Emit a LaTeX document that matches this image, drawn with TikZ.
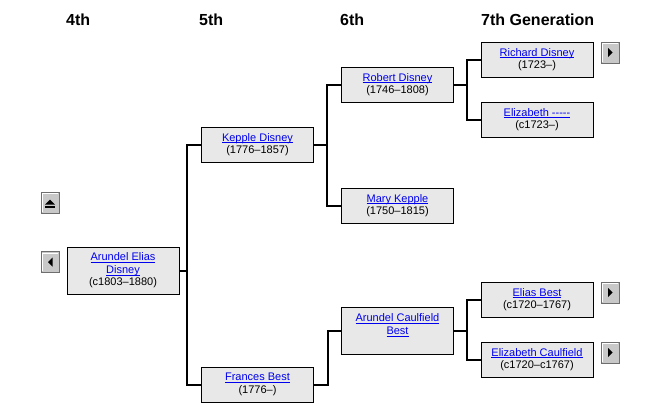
\documentclass[tikz,border=0pt]{standalone}
\usepackage{fontspec}
\setmainfont{Liberation Sans}
\definecolor{lnk}{RGB}{0,0,238}
\definecolor{boxgray}{RGB}{232,232,232}
\definecolor{btngray}{RGB}{200,200,200}
\definecolor{btndark}{RGB}{110,110,110}
\newcommand{\pname}[1]{\textcolor{lnk}{\setbox0\hbox{#1}\rlap{\rule[-2pt]{\wd0}{0.8pt}}\box0}}
\tikzset{pb/.append style={draw=black, fill=boxgray, line width=1pt, minimum width=112pt, minimum height=35pt, inner sep=0pt, align=center, font=\fontsize{11}{12.5}\selectfont}}
\tikzset{hd/.append style={anchor=base west, inner sep=0pt, font=\bfseries\fontsize{16}{19}\selectfont}}
\tikzset{cn/.append style={line width=2pt}}
\tikzset{bt/.append style={draw=btndark, fill=btngray, line width=1pt, minimum width=18pt, minimum height=21pt, inner sep=0pt,
  path picture={\draw[white] (path picture bounding box.south west) ++(1.5,-1.5) |- ([shift={(-1.5,1.5)}]path picture bounding box.north east);}}}

\begin{document}
\begin{tikzpicture}[x=1pt,y=-1pt]
                \useasboundingbox (0,0) rectangle (652,418);
                % headings
                \node[hd] (h4) at (66,25) {4th};
                \node[hd] (h5) at (199,25) {5th};
                \node[hd] (h6) at (340,25) {6th};
                \node[hd] (h7) at (481,25) {7th Generation};
                % people
                \node[pb,minimum height=47pt] (aed) at (123,270.5) {\pname{Arundel Elias}\\\pname{Disney}\\(c1803--1880)};
                \node[pb] (kd) at (257.5,144.5) {\pname{Kepple Disney}\\(1776--1857)};
                \node[pb] (fb) at (257.5,384.5) {\pname{Frances Best}\\(1776--)};
                \node[pb] (rd) at (397.5,84.5) {\pname{Robert Disney}\\(1746--1808)};
                \node[pb] (mk) at (397.5,205.5) {\pname{Mary Kepple}\\(1750--1815)};
                \node[pb,minimum height=47pt] (acb) at (397.5,330.5) {\pname{Arundel Caulfield}\\\pname{Best}\\\mbox{}};
                \node[pb] (rid) at (537,59.5) {\pname{Richard Disney}\\(1723--)};
                \node[pb] (el) at (537,119.5) {\pname{Elizabeth -{}-{}-{}-{}-}\\(c1723--)};
                \node[pb] (eb) at (537,299.5) {\pname{Elias Best}\\(c1720--1767)};
                \node[pb] (ec) at (537,359.5) {\pname{Elizabeth Caulfield}\\(c1720--c1767)};
                % buttons
                \node[bt] (up1) at (50,202.5) {};
                \node[bt] (l1) at (50,262) {};
                \node[bt] (r1) at (610,52.5) {};
                \node[bt] (r2) at (610,292.5) {};
                \node[bt] (r3) at (610,352.5) {};
                \fill ([shift={(-5,2)}]up1.center) -- ++(10,0) -- ++(-5,-5) -- cycle;
                \fill ([shift={(-5,3.5)}]up1.center) rectangle ++(10,2);
                \fill ([shift={(2.5,-4.5)}]l1.center) -- ++(0,9) -- ++(-4.5,-4.5) -- cycle;
                \foreach \b in {r1,r2,r3}
                  \fill ([shift={(-2,-4.5)}]\b.center) -- ++(0,9) -- ++(4.5,-4.5) -- cycle;
                % junctions
                \coordinate (j1) at (187,270.5);
                \coordinate (j2) at (327,144.5);
                \coordinate (j3) at (467,84.5);
                \coordinate (j4) at (467,330.5);
                \draw[cn] (aed.east) -- (j1);
                \draw[cn] (kd.west) -| (j1) |- (fb.west);
                \draw[cn] (kd.east) -- (j2);
                \draw[cn] (rd.west) -| (j2) |- (mk.west);
                \draw[cn] (fb.east) -- ++(14,0) |- (acb.west);
                \draw[cn] (rd.east) -- (j3);
                \draw[cn] (rid.west) -| (j3) |- (el.west);
                \draw[cn] (acb.east) -- (j4);
                \draw[cn] (eb.west) -| (j4) |- (ec.west);
            \end{tikzpicture}
\end{document}
